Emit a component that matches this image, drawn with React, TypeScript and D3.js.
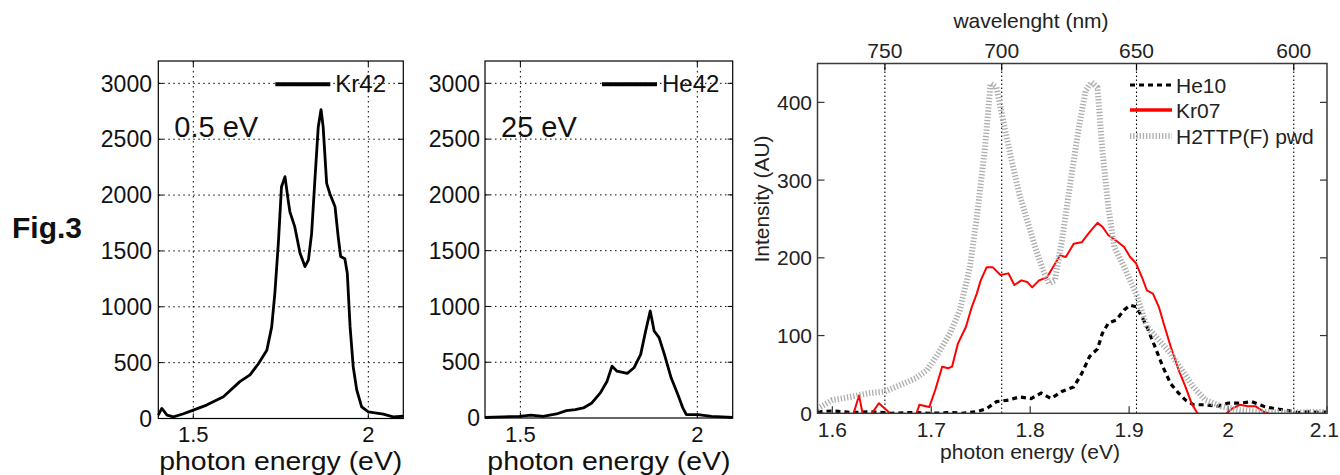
import React from 'react';
import * as d3 from 'd3';

// ---------- Data ----------
const kr42Energy = [1.4, 1.41, 1.425, 1.443, 1.47, 1.5, 1.538, 1.586, 1.633, 1.662, 1.686, 1.71, 1.724, 1.733, 1.743, 1.752, 1.762, 1.771, 1.776, 1.79, 1.805, 1.819, 1.829, 1.838, 1.848, 1.857, 1.865, 1.871, 1.881, 1.89, 1.905, 1.914, 1.921, 1.933, 1.94, 1.948, 1.957, 1.967, 1.981, 2.0, 2.043, 2.071, 2.1];
const kr42Intensity = [30, 90, 30, 15, 40, 75, 120, 195, 330, 390, 490, 610, 820, 1120, 1570, 2075, 2165, 1955, 1850, 1715, 1480, 1360, 1420, 1655, 2165, 2610, 2765, 2610, 2105, 2015, 1895, 1625, 1450, 1430, 1300, 820, 460, 255, 105, 60, 40, 15, 20];

const he42Energy = [1.4, 1.45, 1.497, 1.53, 1.564, 1.602, 1.63, 1.655, 1.678, 1.702, 1.726, 1.745, 1.759, 1.773, 1.802, 1.821, 1.84, 1.854, 1.867, 1.878, 1.892, 1.907, 1.926, 1.945, 1.959, 1.969, 2.002, 2.04, 2.07, 2.1];
const he42Intensity = [6, 10, 15, 25, 15, 36, 66, 75, 90, 135, 225, 330, 465, 420, 400, 450, 570, 780, 960, 780, 720, 570, 360, 210, 90, 30, 30, 15, 10, 6];

const kr07Energy = [1.614, 1.621, 1.627, 1.631, 1.639, 1.647, 1.655, 1.661, 1.67, 1.684, 1.688, 1.698, 1.704, 1.711, 1.717, 1.721, 1.727, 1.735, 1.741, 1.746, 1.75, 1.756, 1.762, 1.77, 1.778, 1.784, 1.791, 1.797, 1.802, 1.809, 1.817, 1.823, 1.83, 1.836, 1.844, 1.852, 1.86, 1.868, 1.873, 1.879, 1.887, 1.895, 1.901, 1.907, 1.913, 1.918, 1.924, 1.93, 1.936, 1.942, 1.95, 1.957, 1.963, 1.969, 1.977, 1.996, 2.004, 2.012, 2.02, 2.028, 2.036, 2.041];
const kr07Intensity = [0, -2, 23, -3, -2, 13, 4, -4, -5, -4, 11, 8, 30, 60, 58, 60, 90, 111, 137, 154, 171, 188, 188, 178, 180, 165, 171, 169, 162, 171, 175, 188, 203, 201, 218, 220, 233, 245, 240, 229, 222, 214, 201, 193, 175, 158, 154, 137, 111, 86, 56, 34, 13, 0, -4, -3, 6, 11, 9, 9, 2, 0];

const he10Energy = [1.585, 1.6, 1.62, 1.64, 1.66, 1.68, 1.7, 1.72, 1.731, 1.746, 1.756, 1.766, 1.778, 1.789, 1.801, 1.811, 1.821, 1.832, 1.844, 1.852, 1.86, 1.868, 1.873, 1.879, 1.887, 1.895, 1.901, 1.907, 1.913, 1.918, 1.926, 1.934, 1.942, 1.95, 1.957, 1.965, 1.977, 1.989, 2.0, 2.012, 2.024, 2.036, 2.047, 2.059, 2.071, 2.082, 2.094, 2.1];
const he10Intensity = [2, 3, 1, 2, 0, 1, 0, 1, 0, 2, 6, 15, 17, 21, 19, 26, 19, 28, 34, 51, 73, 83, 103, 116, 120, 133, 139, 137, 124, 111, 86, 60, 38, 26, 17, 11, 11, 9, 13, 13, 15, 9, 6, 4, 1, 2, 1, 2];

const h2ttpEnergy = [1.585, 1.6, 1.618, 1.637, 1.653, 1.668, 1.684, 1.696, 1.707, 1.719, 1.729, 1.739, 1.746, 1.754, 1.76, 1.766, 1.774, 1.782, 1.789, 1.797, 1.805, 1.813, 1.819, 1.825, 1.832, 1.84, 1.848, 1.856, 1.862, 1.868, 1.873, 1.879, 1.885, 1.895, 1.907, 1.918, 1.93, 1.942, 1.953, 1.965, 1.977, 1.993, 2.012, 2.032, 2.059, 2.1];
const h2ttpIntensity = [6, 17, 21, 26, 28, 36, 45, 56, 77, 103, 133, 188, 252, 338, 424, 419, 368, 321, 282, 248, 214, 184, 167, 171, 222, 291, 359, 415, 426, 419, 338, 265, 214, 188, 154, 111, 94, 77, 56, 34, 17, 9, 4, 2, 1, 2];

const leftYTicks = [0, 500, 1000, 1500, 2000, 2500, 3000];
const leftXTicks = [1.5, 2];
const rightYTicks = [0, 100, 200, 300, 400];
const rightXTicks = [1.6, 1.7, 1.8, 1.9, 2.0, 2.1];
const wavelengthTicks = [750, 700, 650, 600];

const FONT = "'Liberation Sans', Arial, Helvetica, sans-serif";

type LeftProps = {
  x0: number; x1: number; yTop: number; yBot: number;
  energy: number[]; intensity: number[];
  legend: string; annot: string; yLabelRight: number;
};

function LeftPanel({ x0, x1, yTop, yBot, energy, intensity, legend, annot, yLabelRight }: LeftProps) {
  const x = d3.scaleLinear().domain([1.4, 2.1]).range([x0, x1]);
  const y = d3.scaleLinear().domain([0, 3200]).range([yBot, yTop]);
  const pts = energy.map((e, i) => [e, intensity[i]] as [number, number]);
  const line = d3.line<[number, number]>().x(d => x(d[0])).y(d => y(d[1]));
  const grid = { stroke: '#000', strokeWidth: 1, strokeDasharray: '1.5 3.5' };
  return (
    <g>
      {leftYTicks.filter(t => t > 0).map(t => (
        <line key={'gy' + t} x1={x0} x2={x1} y1={y(t)} y2={y(t)} {...grid} />
      ))}
      {leftXTicks.map(t => (
        <line key={'gx' + t} x1={x(t)} x2={x(t)} y1={yTop} y2={yBot} {...grid} />
      ))}
      {leftYTicks.map(t => (
        <g key={'ty' + t}>
          <line x1={x0} x2={x0 + 5} y1={y(t)} y2={y(t)} stroke="#000" />
          <line x1={x1} x2={x1 - 5} y1={y(t)} y2={y(t)} stroke="#000" />
          <text x={yLabelRight} y={y(t)} dy="0.36em" textAnchor="end" fontSize={23} fontFamily={FONT} fill="#111">{t}</text>
        </g>
      ))}
      {leftXTicks.map(t => (
        <g key={'tx' + t}>
          <line x1={x(t)} x2={x(t)} y1={yBot} y2={yBot - 5} stroke="#000" />
          <line x1={x(t)} x2={x(t)} y1={yTop} y2={yTop + 5} stroke="#000" />
          <text x={x(t)} y={442} textAnchor="middle" fontSize={22} fontFamily={FONT} fill="#111">{t}</text>
        </g>
      ))}
      <path d={line(pts) || ''} fill="none" stroke="#000" strokeWidth={2.8} strokeLinejoin="round" />
      <rect x={x0} y={yTop} width={x1 - x0} height={yBot - yTop} fill="none" stroke="#000" strokeWidth={1.2} />
      <line x1={x0 + 117} x2={x0 + 172} y1={y(3000) + 1} y2={y(3000) + 1} stroke="#000" strokeWidth={4} />
      <text x={x0 + 177} y={y(3000) + 9} fontSize={24} fontFamily={FONT} fill="#111">{legend}</text>
      <text x={x0 + 16} y={137} fontSize={29} fontFamily={FONT} fill="#111">{annot}</text>
      <text x={(x0 + x1) / 2} y={469.5} textAnchor="middle" fontSize={25} textLength={243} lengthAdjust="spacingAndGlyphs" fontFamily={FONT} fill="#111">photon energy (eV)</text>
    </g>
  );
}

function RightPanel() {
  const x0 = 817.5, x1 = 1327, yTop = 63.5, yBot = 413.3;
  const x = d3.scaleLinear().domain([1.585, 2.1]).range([x0, x1]);
  const y = d3.scaleLinear().domain([0, 450]).range([yBot, yTop]);
  const line = d3.line<[number, number]>().x(d => x(d[0])).y(d => y(d[1]));
  const mk = (e: number[], v: number[]) => e.map((t, i) => [t, v[i]] as [number, number]);
  const wlE = (nm: number) => 1239.84 / nm;
  return (
    <g>
      <defs>
        <clipPath id="rclip">
          <rect x={x0} y={yTop} width={x1 - x0} height={yBot - yTop} />
        </clipPath>
      </defs>
      {wavelengthTicks.map(w => (
        <g key={'w' + w}>
          <line x1={x(wlE(w))} x2={x(wlE(w))} y1={yTop} y2={yBot} stroke="#000" strokeWidth={1.1} strokeDasharray="1.5 2.5" />
          <line x1={x(wlE(w))} x2={x(wlE(w))} y1={yTop} y2={yTop + 7} stroke="#000" strokeWidth={1.2} />
          <text x={x(wlE(w))} y={58} textAnchor="middle" fontSize={21} fontFamily={FONT} fill="#222">{w}</text>
        </g>
      ))}
      {rightXTicks.map((t, i) => {
        const last = i === rightXTicks.length - 1;
        return (
          <g key={'rx' + t}>
            <line x1={x(t)} x2={x(t)} y1={yBot} y2={yBot - 7} stroke="#333" strokeWidth={1.2} />
            <text x={last ? 1339 : x(t)} y={437} textAnchor={last ? 'end' : 'middle'} fontSize={21} fontFamily={FONT} fill="#222">{t === 2 ? '2' : t}</text>
          </g>
        );
      })}
      {rightYTicks.map(t => (
        <g key={'ry' + t}>
          <line x1={x0} x2={x0 + 7} y1={y(t)} y2={y(t)} stroke="#333" strokeWidth={1.2} />
          <line x1={x1} x2={x1 - 7} y1={y(t)} y2={y(t)} stroke="#333" strokeWidth={1.2} />
          <text x={812} y={y(t)} dy="0.36em" textAnchor="end" fontSize={21} fontFamily={FONT} fill="#222">{t}</text>
        </g>
      ))}
      <g clipPath="url(#rclip)">
        <path d={line(mk(he10Energy, he10Intensity)) || ''} fill="none" stroke="#000" strokeWidth={3.2} strokeDasharray="5 4" />
        <path d={line(mk(kr07Energy, kr07Intensity)) || ''} fill="none" stroke="#ff0000" strokeWidth={2} strokeLinejoin="round" />
        <path d={line(mk(h2ttpEnergy, h2ttpIntensity)) || ''} fill="none" stroke="#adadad" strokeWidth={6} strokeDasharray="1.3 1.9" />
      </g>
      <rect x={x0} y={yTop} width={x1 - x0} height={yBot - yTop} fill="none" stroke="#3a3a3a" strokeWidth={1.5} />
      {/* legend */}
      <line x1={1130} x2={1172} y1={85} y2={85} stroke="#000" strokeWidth={3.2} strokeDasharray="5 4" />
      <text x={1176} y={92.5} fontSize={21} fontFamily={FONT} fill="#222">He10</text>
      <line x1={1130} x2={1172} y1={110} y2={110} stroke="#ff0000" strokeWidth={3.5} />
      <text x={1176} y={117.5} fontSize={21} fontFamily={FONT} fill="#222">Kr07</text>
      <line x1={1130} x2={1172} y1={136} y2={136} stroke="#adadad" strokeWidth={6} strokeDasharray="1.3 1.9" />
      <text x={1176} y={143.5} fontSize={21} fontFamily={FONT} fill="#222">H2TTP(F) pwd</text>
      <text x={1031} y={28} textAnchor="middle" fontSize={21} fontFamily={FONT} fill="#222">wavelenght (nm)</text>
      <text x={1030} y={459} textAnchor="middle" fontSize={21} fontFamily={FONT} fill="#222">photon energy (eV)</text>
      <text transform="translate(769,199) rotate(-90)" textAnchor="middle" fontSize={21} fontFamily={FONT} fill="#222">Intensity (AU)</text>
    </g>
  );
}

export default function App() {
  return (
    <svg width={1340} height={475} style={{ position: 'absolute', left: 0, top: 0, background: '#fff' }}>
      <rect x={0} y={0} width={1340} height={475} fill="#fff" />
      <text x={12} y={238} fontSize={30} fontWeight="bold" fontFamily={FONT} fill="#111">Fig.3</text>
      <LeftPanel x0={158.3} x1={403.3} yTop={61} yBot={418.5} energy={kr42Energy} intensity={kr42Intensity} legend="Kr42" annot="0.5 eV" yLabelRight={152} />
      <LeftPanel x0={485} x1={732.7} yTop={61} yBot={418} energy={he42Energy} intensity={he42Intensity} legend="He42" annot="25 eV" yLabelRight={480} />
      <RightPanel />
    </svg>
  );
}
